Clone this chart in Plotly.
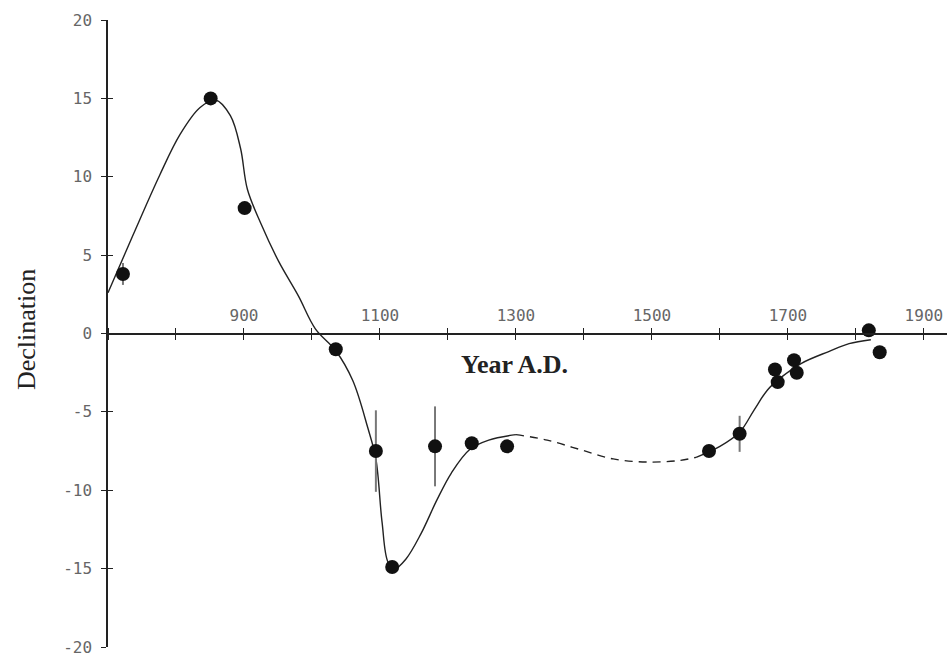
import plotly.graph_objects as go

# Observations
obs_year = [722, 851, 901, 1035, 1094, 1118, 1181, 1235, 1287, 1584, 1629, 1681, 1685, 1709, 1713, 1819, 1835]
obs_decl = [3.8, 15.0, 8.0, -1.0, -7.5, -14.9, -7.2, -7.0, -7.2, -7.5, -6.4, -2.3, -3.1, -1.7, -2.5, 0.2, -1.2]
obs_err = [0.7, 0, 0, 0, 2.6, 0, 2.55, 0, 0, 0, 1.15, 0, 0, 0, 0, 0, 0]

# Fitted curve (solid / dashed / solid)
c1_year = [700, 737, 776, 806, 835, 858, 880, 895, 905, 925, 951, 980, 1005, 1035,
           1060, 1082, 1094, 1103, 1112, 1122, 1138, 1160, 1184, 1205, 1232, 1260, 1300]
c1_decl = [2.6, 6.3, 10.1, 12.7, 14.4, 14.9, 13.9, 11.8, 9.2, 7.0, 4.6, 2.4, 0.3, -1.1,
           -3.0, -6.0, -8.0, -12.0, -14.6, -15.0, -14.4, -12.8, -10.6, -8.9, -7.4, -6.8, -6.45]
c2_year = [1300, 1346, 1394, 1443, 1493, 1541, 1565]
c2_decl = [-6.45, -6.8, -7.4, -8.0, -8.2, -8.1, -7.9]
c3_year = [1565, 1600, 1629, 1650, 1670, 1690, 1720, 1760, 1790, 1822]
c3_decl = [-7.9, -7.2, -6.3, -4.9, -3.6, -2.8, -1.9, -1.15, -0.65, -0.4]

x_ticks = [700, 800, 900, 1000, 1100, 1200, 1300, 1400, 1500, 1600, 1700, 1800, 1900]
x_labels = ["", "", "900", "", "1100", "", "1300", "", "1500", "", "1700", "", "1900"]
y_ticks = [-20, -15, -10, -5, 0, 5, 10, 15, 20]
y_labels = ["-20", "-15", "-10", "-5", "0", "5", "10", "15", "20"]

X_RANGE = [700, 1934]
Y_RANGE = [-20, 20]

line_col = "#222222"
tick_font = dict(family="DejaVu Sans Mono", size=16, color="#666666")
spl = dict(color=line_col, width=1.4, shape="spline", smoothing=1.0)

fig = go.Figure()
fig.add_trace(go.Scatter(x=c1_year, y=c1_decl, mode="lines", line=spl, hoverinfo="skip"))
fig.add_trace(go.Scatter(x=c2_year, y=c2_decl, mode="lines", line=dict(spl, dash="8px,6px"), hoverinfo="skip"))
fig.add_trace(go.Scatter(x=c3_year, y=c3_decl, mode="lines", line=spl, hoverinfo="skip"))
fig.add_trace(go.Scatter(
    x=obs_year, y=obs_decl, mode="markers",
    marker=dict(color="#111111", size=14),
    error_y=dict(type="data", array=obs_err, visible=True, width=0, thickness=2, color="#777777"),
))
# invisible trace to host the overlay axes (crossing tick halves)
fig.add_trace(go.Scatter(x=[X_RANGE[0]], y=[0], mode="markers", marker=dict(opacity=0), xaxis="x2", yaxis="y2", hoverinfo="skip"))

fig.update_layout(
    width=947, height=657,
    margin=dict(l=108, r=0, t=20, b=10),
    paper_bgcolor="white", plot_bgcolor="white",
    showlegend=False,
    xaxis=dict(range=X_RANGE, anchor="free", position=0.5, side="top",
               tickvals=x_ticks, ticktext=x_labels, ticks="outside", ticklen=5, tickwidth=1.2, tickcolor=line_col,
               showline=True, linecolor=line_col, linewidth=1.5, showgrid=False, zeroline=False,
               tickfont=tick_font),
    xaxis2=dict(range=X_RANGE, overlaying="x", anchor="free", position=0.5, side="bottom",
                tickvals=x_ticks, ticks="outside", ticklen=5, tickwidth=1.2, tickcolor=line_col,
                showticklabels=False, showline=False, showgrid=False, zeroline=False),
    yaxis=dict(range=Y_RANGE, tickvals=y_ticks, ticktext=y_labels, ticks="outside", ticklen=5, tickwidth=1.2,
               tickcolor=line_col, showline=True, linecolor=line_col, linewidth=1.5, showgrid=False,
               zeroline=False, tickfont=tick_font, ticklabelstandoff=6),
    yaxis2=dict(range=Y_RANGE, overlaying="y", side="left", anchor="x",
                tickvals=y_ticks, ticks="inside", ticklen=5, tickwidth=1.2, tickcolor=line_col,
                showticklabels=False, showline=False, showgrid=False, zeroline=False),
    annotations=[
        dict(text="<b>Year A.D.</b>", xref="paper", yref="paper", x=0.485, y=0.45,
             showarrow=False, font=dict(family="Liberation Serif", size=26, color="#222222")),
        dict(text="Declination", xref="paper", yref="paper", x=-0.117, y=0.506, textangle=-90,
             showarrow=False, font=dict(family="Liberation Serif", size=26, color="#222222")),
    ],
)

fig.write_html("out.html")
